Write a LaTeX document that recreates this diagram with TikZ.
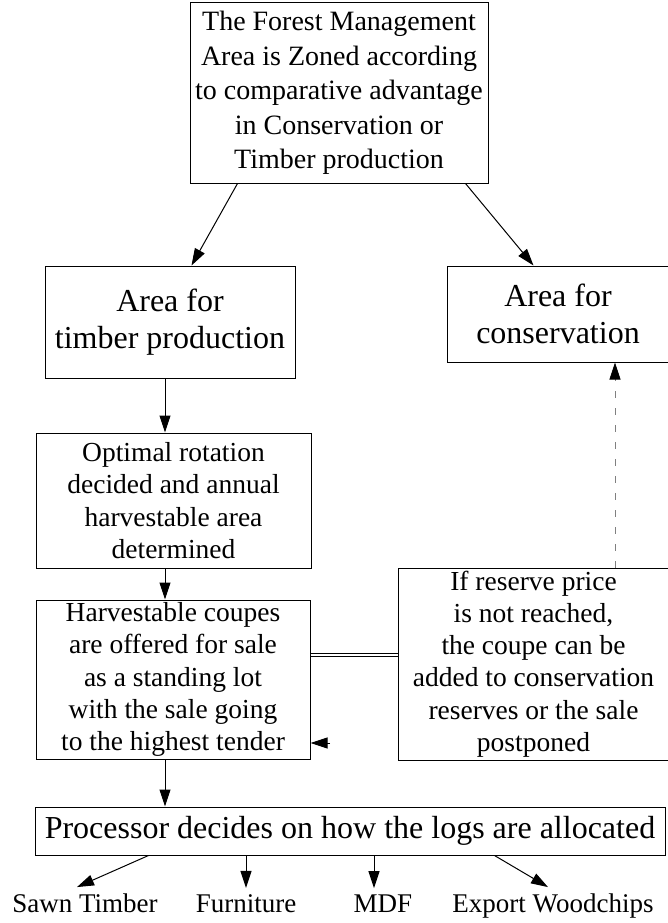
\documentclass[tikz,border=0pt]{standalone}
\usepackage{fontspec}
\setmainfont{Liberation Serif}
\usetikzlibrary{arrows.meta,positioning,calc}

\begin{document}
\begin{tikzpicture}[x=1pt, y=-1pt,
    box/.style={rectangle, draw=black, line width=1pt, align=center,
                inner sep=0pt, font=\fontsize{27.5}{32.3}\selectfont},
    bigbox/.style={box, font=\fontsize{32}{37}\selectfont},
    lbl/.style={inner sep=6pt, anchor=base, font=\fontsize{27}{32}\selectfont},
    arr/.style={-{Triangle[length=17pt, width=11pt]}, line width=1pt},
    link/.style={double, double distance=2.2pt, line width=0.8pt},
    fallback/.style={-{Triangle[length=17pt, width=11pt, black]}, black!50,
                     dash pattern=on 7pt off 10pt, line width=0.7pt}
  ]
  \useasboundingbox (0,0) rectangle (668,923);

  \node[box, minimum width=298pt, minimum height=180pt, font=\fontsize{28}{34.5}\selectfont] (zone) at (339,93)
    {The Forest Management\\Area is Zoned according\\to comparative advantage\\in Conservation or\\Timber production};
  \node[bigbox, minimum width=250pt, minimum height=112pt] (timber) at (170,322)
    {Area for\\timber production};
  \node[bigbox, minimum width=222pt, minimum height=96pt] (cons) at (558,314)
    {Area for\\conservation};
  \node[box, minimum width=275pt, minimum height=135pt] (rotation) at (173.5,500.5)
    {Optimal rotation\\decided and annual\\harvestable area\\determined};
  \node[box, minimum width=274pt, minimum height=159pt] (sale) at (173,679.5)
    {Harvestable coupes\\are offered for sale\\as a standing lot\\with the sale going\\to the highest tender};
  \node[box, minimum width=271pt, minimum height=192pt] (reserve) at (533.5,664)
    {If reserve price\\is not reached,\\the coupe can be\\added to conservation\\reserves or the sale\\postponed};
  \node[bigbox, minimum width=630pt, minimum height=48pt] (proc) at (350,831)
    {Processor decides on how the logs are allocated};

  \node[lbl] (sawn)   at (85,912)  {Sawn Timber};
  \node[lbl] (furn)   at (246,912) {Furniture};
  \node[lbl] (mdf)    at (383,912) {MDF};
  \node[lbl] (export) at (553,912) {Export Woodchips};

  \draw[arr] ([xshift=48pt]zone.south west) -- ([xshift=147pt]timber.north west);
  \draw[arr] ([xshift=-23pt]zone.south east) -- ([xshift=87pt]cons.north west);

  \coordinate (spine) at (165,0);
  \draw[arr] (timber.south -| spine) -- (rotation.north -| spine);
  \draw[arr] (rotation.south -| spine) -- (sale.north -| spine);
  \draw[arr] (sale.south -| spine) -- (proc.north -| spine);

  \coordinate (offer) at (0,655);
  \draw[link] (sale.east |- offer) -- (reserve.west |- offer);
  \coordinate (relist) at (330,743);
  \draw[arr] (relist) -- (sale.east |- relist);
  \coordinate (lift) at (615,0);
  \draw[fallback] (reserve.north -| lift) -- (cons.south -| lift);

  \coordinate (mdftop) at ([xshift=-9pt]mdf.north);
  \draw[arr] ([xshift=114pt]proc.south west) -- ([xshift=-8pt]sawn.north);
  \draw[arr] (proc.south -| furn.north) -- (furn.north);
  \draw[arr] (proc.south -| mdftop) -- (mdftop);
  \draw[arr] ([xshift=-171pt]proc.south east) -- ([xshift=-5pt]export.north);
\end{tikzpicture}
\end{document}
